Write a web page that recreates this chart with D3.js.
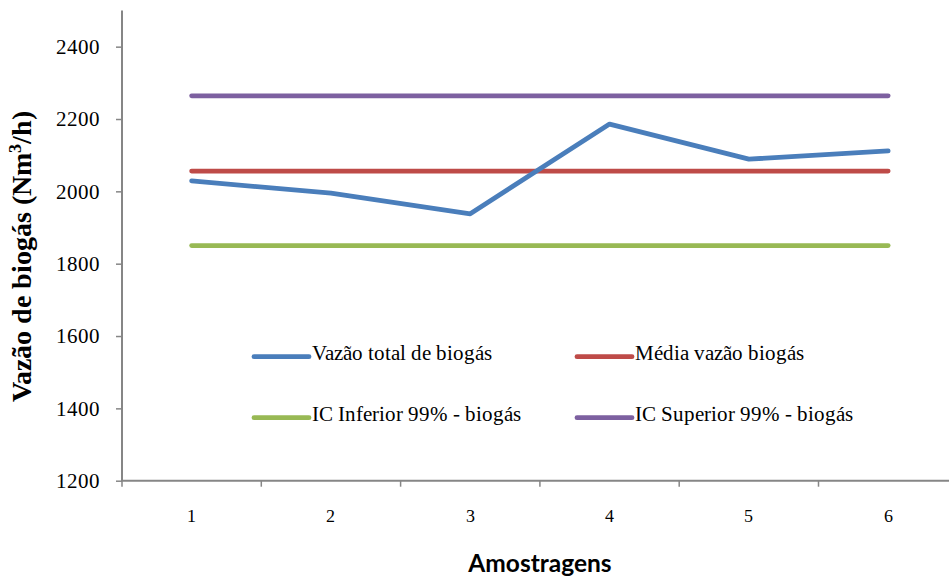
<!DOCTYPE html>
<html>
<head>
<meta charset="utf-8">
<script src="https://cdn.jsdelivr.net/npm/d3@7"></script>
<style>
  @font-face { font-family: "ChartSerif"; font-weight: normal; src: local("Liberation Serif"), local("LiberationSerif"), local("Liberation Serif Regular"), local("LiberationSerif-Regular"); }
  @font-face { font-family: "ChartSerif"; font-weight: bold; src: local("Liberation Serif Bold"), local("LiberationSerif-Bold"); }
  html, body { margin: 0; padding: 0; background: #fff; }
  svg { display: block; }
</style>
</head>
<body>
<svg id="chart" width="949" height="578"></svg>
<script>
// Sample numbers (x axis)
const categories = ["1", "2", "3", "4", "5", "6"];
// Total biogas flow per sample (Nm³/h)
const vazaoTotal = [2029, 1995, 1938, 2186, 2089, 2112];
// Mean flow and 99% confidence bounds (constant across samples)
const mediaVazao = [2056, 2056, 2056, 2056, 2056, 2056];
const icInferior = [1850, 1850, 1850, 1850, 1850, 1850];
const icSuperior = [2264, 2264, 2264, 2264, 2264, 2264];
// Y axis tick values
const yTicks = [1200, 1400, 1600, 1800, 2000, 2200, 2400];

const seriesNames = ["Vazão total de biogás", "Média vazão biogás", "IC Inferior 99% - biogás", "IC Superior 99% - biogás"];
const seriesColors = ["#4a7ebb", "#be4b48", "#98b954", "#7d60a0"];

const svg = d3.select("#chart");

const x = d3.scaleBand().domain(categories).range([122, 957.8]);
const y = d3.scaleLinear().domain([1200, 2500]).range([480.7, 10.5]);

const axisColor = "#868686";
const serifFont = "ChartSerif, Liberation Serif, serif";

// Y axis
const yAxis = svg.append("g")
  .attr("transform", "translate(122,0)")
  .call(d3.axisLeft(y).tickValues(yTicks).tickSize(6).tickPadding(16).tickFormat(d3.format("d")));
yAxis.attr("font-family", serifFont).attr("font-size", 21);
yAxis.select(".domain").attr("stroke", axisColor).attr("stroke-width", 2).attr("d", `M0,${y(2500)}V${y(1200)}`);
yAxis.selectAll(".tick line").attr("stroke", axisColor).attr("stroke-width", 1.5);
yAxis.selectAll(".tick text").attr("fill", "#000").attr("font-family", serifFont);

// X axis: ticks at band boundaries, labels at band centres
const xAxisG = svg.append("g").attr("transform", `translate(0,${y(1200)})`);
xAxisG.append("line")
  .attr("x1", 121).attr("x2", 949)
  .attr("stroke", axisColor).attr("stroke-width", 2);
const boundaries = categories.map(c => x(c)).concat([x(categories[categories.length - 1]) + x.bandwidth()]);
xAxisG.selectAll("line.tk").data(boundaries).join("line")
  .attr("class", "tk")
  .attr("x1", d => d).attr("x2", d => d)
  .attr("y1", 0).attr("y2", 6)
  .attr("stroke", axisColor).attr("stroke-width", 1.5);
xAxisG.selectAll("text").data(categories).join("text")
  .attr("font-family", serifFont)
  .attr("x", d => x(d) + x.bandwidth() / 2)
  .attr("y", 41.5)
  .attr("text-anchor", "middle")
  .attr("font-size", 18).attr("fill", "#000")
  .text(d => d);

// Axis titles
svg.append("text")
  .attr("font-family", "Lato")
  .attr("x", 540).attr("y", 571.5)
  .attr("text-anchor", "middle")
  .attr("font-weight", "bold")
  .attr("font-size", 24.5).attr("fill", "#000")
  .text("Amostragens");

const yTitle = svg.append("text")
  .attr("font-family", serifFont)
  .attr("transform", "translate(31,256.5) rotate(-90)")
  .attr("text-anchor", "middle")
  .attr("font-weight", "bold")
  .attr("font-size", 28).attr("fill", "#000");
yTitle.append("tspan").text("Vazão de biogás (Nm");
yTitle.append("tspan").attr("dy", -10).attr("font-size", 18).text("3");
yTitle.append("tspan").attr("dy", 10).text("/h)");

// Series lines
const allSeries = [vazaoTotal, mediaVazao, icInferior, icSuperior];
const line = d3.line()
  .x((d, i) => x(categories[i]) + x.bandwidth() / 2)
  .y(d => y(d));

// draw order: bounds and mean first, total flow on top
[3, 2, 1, 0].forEach(k => {
  svg.append("path")
    .datum(allSeries[k])
    .attr("d", line)
    .attr("fill", "none")
    .attr("stroke", seriesColors[k])
    .attr("stroke-width", 4.8)
    .attr("stroke-linecap", "round")
    .attr("stroke-linejoin", "round");
});

// Legend (2 x 2)
const legendPos = [[254, 356.7], [577, 356.7], [254, 417.7], [577, 417.7]];
seriesNames.forEach((name, k) => {
  const [lx, ly] = legendPos[k];
  svg.append("line")
    .attr("x1", lx).attr("x2", lx + 55)
    .attr("y1", ly).attr("y2", ly)
    .attr("stroke", seriesColors[k]).attr("stroke-width", 4.8)
    .attr("stroke-linecap", "round");
  svg.append("text")
    .attr("font-family", serifFont)
    .attr("x", lx + 58).attr("y", ly + 3.5)
    .attr("font-size", 21).attr("fill", "#000")
    .text(name);
});
</script>
</body>
</html>
